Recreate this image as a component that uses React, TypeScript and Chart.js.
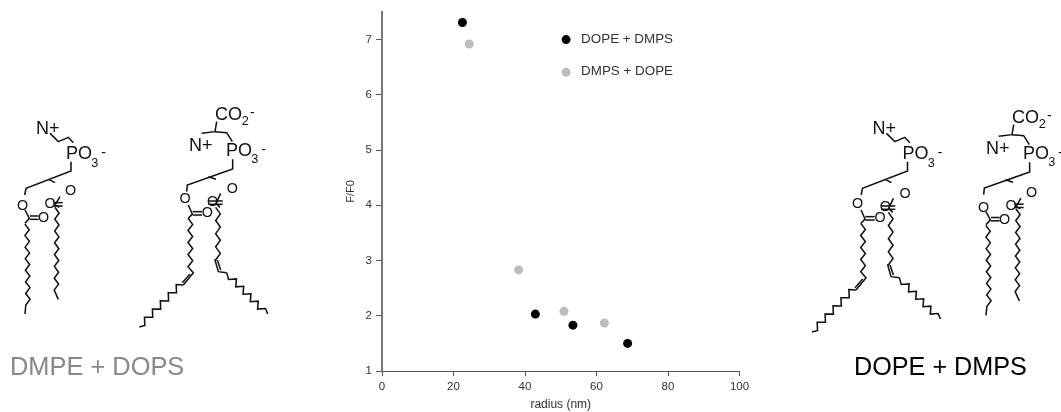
import React, { useEffect, useRef } from "react";
import { Chart, registerables } from "chart.js";

Chart.register(...registerables);

const seriesNames = ["DOPE + DMPS", "DMPS + DOPE"];
const radiusDopeDmps = [22.5, 42.9, 53.4, 68.7];
const ratioDopeDmps = [7.31, 2.03, 1.83, 1.5];
const radiusDmpsDope = [24.4, 38.2, 50.9, 62.2];
const ratioDmpsDope = [6.92, 2.83, 2.08, 1.87];
const xTitle = "radius (nm)";
const yTitle = "F/F0";
const captionLeft = "DMPE + DOPS";
const captionRight = "DOPE + DMPS";

const FONT = "'Liberation Sans', Arial, sans-serif";
const INK = "#111";

type P = [number, number];

function zig(a: P, b: P, n: number, amp: number): P[] {
  const dx = b[0] - a[0];
  const dy = b[1] - a[1];
  const len = Math.hypot(dx, dy);
  const nx = -dy / len;
  const ny = dx / len;
  const pts: P[] = [];
  for (let i = 0; i <= n; i++) {
    const t = i / n;
    const s = i % 2 === 0 ? amp : -amp;
    pts.push([a[0] + dx * t + nx * s, a[1] + dy * t + ny * s]);
  }
  return pts;
}

const Line = ({ p }: { p: P[] }) => (
  <polyline
    points={p.map((q) => q.join(",")).join(" ")}
    fill="none"
    stroke={INK}
    strokeWidth={4.6}
    strokeLinejoin="miter"
  />
);

const T = ({ x, y, s, t, mid }: { x: number; y: number; s: number; t: string; mid?: boolean }) => (
  <text x={x} y={y} fontSize={s} fill={INK} fontFamily={FONT} textAnchor={mid ? "middle" : "start"}>
    {t}
  </text>
);

const Phosphate = ({ x, y }: { x: number; y: number }) => (
  <>
    <T x={x} y={y} s={54} t="PO" />
    <T x={x + 76} y={y + 22} s={38} t="3" />
    <T x={x + 106} y={y - 6} s={42} t="-" />
  </>
);

const HeadPE = () => (
  <g>
    <T x={108} y={131} s={54} t="N+" />
    <Line p={[[150, 130], [175, 155], [205, 142], [220, 158]]} />
    <Phosphate x={198} y={208} />
    <Line p={[[213, 215], [213, 243], [78, 295], [74, 315]]} />
    <Line p={[[146, 268], [165, 278]]} />
  </g>
);

const HeadPS = () => (
  <g>
    <T x={645} y={90} s={54} t="CO" />
    <T x={725} y={105} s={38} t="2" />
    <T x={750} y={82} s={42} t="-" />
    <Line p={[[650, 95], [645, 125], [605, 130]]} />
    <Line p={[[645, 125], [680, 128], [697, 155]]} />
    <T x={567} y={183} s={54} t="N+" />
    <Phosphate x={678} y={197} />
    <Line p={[[698, 208], [698, 237], [562, 285], [560, 305]]} />
    <Line p={[[625, 260], [648, 268]]} />
  </g>
);

const TailsSat = () => (
  <g>
    <T x={68} y={360} s={43} t="O" mid />
    <Line p={[[75, 360], [88, 385], [75, 400]]} />
    <Line p={[[90, 378], [116, 378]]} />
    <Line p={[[90, 388], [116, 388]]} />
    <T x={131} y={397} s={43} t="O" mid />
    <Line p={[...zig([81, 402], [84, 645], 14, 6.5), [75, 672]]} />
    <T x={212} y={315} s={43} t="O" mid />
    <T x={150} y={355} s={43} t="O" mid />
    <Line p={[[180, 320], [165, 345], [178, 352]]} />
    <Line p={[[160, 338], [188, 338]]} />
    <Line p={[[160, 348], [188, 348]]} />
    <Line p={[...zig([171, 352], [169, 600], 14, 6.5), [175, 628]]} />
  </g>
);

const TailsOle = () => (
  <g>
    <T x={555} y={340} s={43} t="O" mid />
    <Line p={[[565, 345], [577, 372], [565, 385]]} />
    <Line p={[[578, 365], [606, 365]]} />
    <Line p={[[578, 375], [606, 375]]} />
    <T x={622} y={382} s={43} t="O" mid />
    <Line p={[...zig([571, 385], [571, 530], 8, 7), [580, 548], [550, 585]]} />
    <Line p={[[570, 552], [547, 578]]} />
    <Line p={[[550, 585], ...zig([535, 590], [428, 700], 9, 9), [418, 711]]} />
    <T x={697} y={309} s={43} t="O" mid />
    <T x={638} y={347} s={43} t="O" mid />
    <Line p={[[662, 310], [648, 340], [660, 352]]} />
    <Line p={[[625, 333], [668, 333]]} />
    <Line p={[[625, 343], [668, 343]]} />
    <Line p={[...zig([654, 352], [654, 510], 8, 7), [645, 510], [655, 545], [680, 548]]} />
    <Line p={[[652, 510], [662, 540]]} />
    <Line p={[[680, 548], ...zig([692, 562], [790, 662], 9, 9), [803, 672]]} />
  </g>
);

const place = (dx: number, dy: number) => `translate(${dx} ${90 + dy}) scale(${1 / 3})`;

const Structures = () => (
  <svg
    width={1061}
    height={412}
    style={{ position: "absolute", left: 0, top: 0, pointerEvents: "none" }}
  >
    <g transform={place(0, 0)}>
      <HeadPE />
      <TailsSat />
      <HeadPS />
      <TailsOle />
    </g>
    <g transform={place(836.5, 0)}>
      <HeadPE />
    </g>
    <g transform={place(672.7, 5)}>
      <TailsOle />
    </g>
    <g transform={place(797, 3)}>
      <HeadPS />
    </g>
    <g transform={place(961, 1.5)}>
      <TailsSat />
    </g>
    <text x={10} y={374.5} fontSize={25.4} fill="#888" fontFamily={FONT}>
      {captionLeft}
    </text>
    <text x={854} y={374.5} fontSize={25.2} fill="#000" fontFamily={FONT}>
      {captionRight}
    </text>
  </svg>
);

const floatingLegend = {
  id: "floatingLegend",
  afterDraw(chart: any) {
    const { ctx, scales } = chart;
    const x = scales.x.getPixelForValue(51.5);
    chart.data.datasets.forEach((d: any, i: number) => {
      const y = scales.y.getPixelForValue(7 - i * 0.59);
      ctx.save();
      ctx.fillStyle = d.backgroundColor;
      ctx.beginPath();
      ctx.arc(x, y, d.pointRadius, 0, Math.PI * 2);
      ctx.fill();
      ctx.fillStyle = "#333";
      ctx.font = `13.4px ${FONT}`;
      ctx.textBaseline = "middle";
      ctx.fillText(d.label, x + 15, y - 0.5);
      ctx.restore();
    });
  },
};

export default function App() {
  const ref = useRef<HTMLCanvasElement>(null);
  useEffect(() => {
    const tickFont = { family: FONT, size: 11.5 };
    const chart = new Chart(ref.current!, {
      type: "scatter",
      data: {
        datasets: [
          {
            label: seriesNames[0],
            data: radiusDopeDmps.map((x, i) => ({ x, y: ratioDopeDmps[i] })),
            backgroundColor: "#000",
            pointRadius: 4.5,
            pointBorderWidth: 0,
          },
          {
            label: seriesNames[1],
            data: radiusDmpsDope.map((x, i) => ({ x, y: ratioDmpsDope[i] })),
            backgroundColor: "#bdbdbd",
            pointRadius: 4.5,
            pointBorderWidth: 0,
          },
        ],
      },
      options: {
        animation: false,
        responsive: false,
        layout: { padding: { left: 340, right: 321.5, top: 12, bottom: 0 } },
        plugins: { legend: { display: false }, tooltip: { enabled: false } },
        scales: {
          x: {
            type: "linear",
            min: 0,
            max: 100,
            afterFit: (s: any) => {
              s.height = 41;
            },
            grid: { display: true, drawOnChartArea: false, tickLength: 5, color: "#555" },
            border: { color: "#555", width: 1 },
            ticks: { stepSize: 20, maxRotation: 0, font: tickFont, color: "#333", padding: 4 },
            title: { display: true, text: xTitle, font: { family: FONT, size: 12 }, color: "#333", padding: { top: 0, bottom: 0 } },
          },
          y: {
            type: "linear",
            min: 1,
            max: 7.5,
            afterFit: (s: any) => {
              s.width = 42;
            },
            grid: { display: true, drawOnChartArea: false, tickLength: 6, color: "#555" },
            border: { color: "#777", width: 2 },
            ticks: { stepSize: 1, includeBounds: false, font: tickFont, color: "#333", padding: 4 },
            title: { display: true, text: yTitle, font: { family: FONT, size: 11 }, color: "#333", padding: { top: 4, bottom: 0 } },
          },
        },
      },
      plugins: [floatingLegend],
    } as any);
    return () => chart.destroy();
  }, []);
  return (
    <div style={{ position: "absolute", left: 0, top: 0, width: 1061, height: 412, overflow: "hidden" }}>
      <canvas ref={ref} width={1061} height={412} style={{ display: "block" }} />
      <Structures />
    </div>
  );
}
